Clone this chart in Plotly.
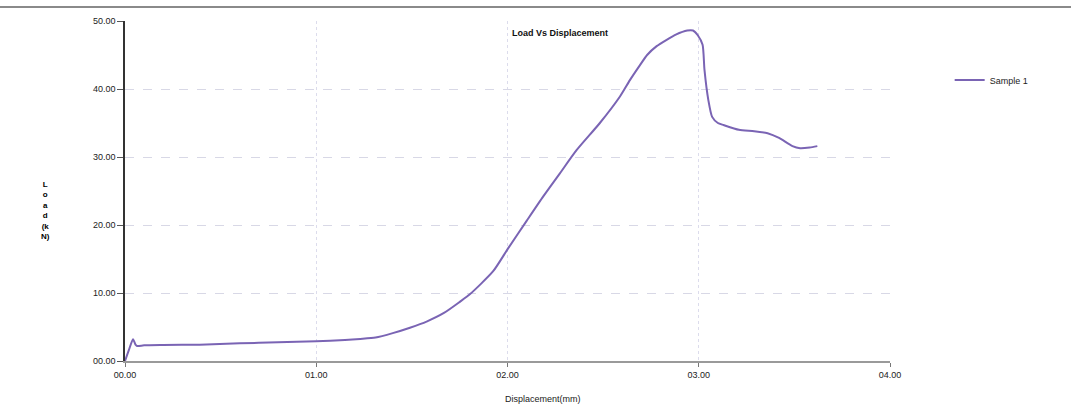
import plotly.graph_objects as go

# Data
displacement_mm = [0.00, 0.020, 0.042, 0.055, 0.063, 0.10, 0.20, 0.39, 0.60, 0.80, 1.00,
                   1.15, 1.23, 1.31, 1.40, 1.49, 1.577, 1.67, 1.751, 1.803, 1.925,
                   2.004, 2.10, 2.187, 2.274, 2.361, 2.483, 2.588, 2.64, 2.69, 2.73,
                   2.78, 2.83, 2.88, 2.94, 2.97, 2.995, 3.02, 3.03, 3.05, 3.07, 3.10,
                   3.13, 3.21, 3.29, 3.36, 3.42, 3.49, 3.53, 3.58, 3.62]
load_kN = [0.0, 1.6, 3.2, 2.4, 2.2, 2.3, 2.35, 2.4, 2.6, 2.75, 2.9,
           3.1, 3.25, 3.45, 4.1, 4.9, 5.8, 7.1, 8.7, 9.8, 13.2,
           16.6, 20.6, 24.2, 27.6, 31.0, 35.0, 38.9, 41.3, 43.4, 45.0,
           46.3, 47.2, 48.0, 48.6, 48.6, 47.9, 46.5, 42.8, 38.4, 35.9, 35.0,
           34.7, 34.0, 33.8, 33.5, 32.8, 31.6, 31.3, 31.4, 31.6]

x_ticks = [0, 1, 2, 3, 4]
x_tick_labels = ["00.00", "01.00", "02.00", "03.00", "04.00"]
y_ticks = [0, 10, 20, 30, 40, 50]
y_tick_labels = ["00.00", "10.00", "20.00", "30.00", "40.00", "50.00"]

series_name = "Sample 1"
title_text = "Load Vs Displacement"
x_title = "Displacement(mm)"
y_title = "L<br>o<br>a<br>d<br>(k<br>N)"

line_color = "#7a64b4"
font_family = "Liberation Sans, Arial, sans-serif"

# plot area in pixels
L, R, T, B = 125, 890, 21, 361
W, H = R - L, B - T


def px(xp):
    return (xp - L) / W


def py(yp):
    return (B - yp) / H


fig = go.Figure()
fig.add_trace(go.Scatter(
    x=displacement_mm, y=load_kN, mode="lines", name=series_name,
    line=dict(color=line_color, width=2, shape="spline", smoothing=0.6),
    showlegend=True,
))

fig.update_layout(
    width=1071, height=411,
    margin=dict(l=L, r=1071 - R, t=T, b=411 - B),
    paper_bgcolor="white", plot_bgcolor="white",
    font=dict(family=font_family, size=9, color="#222"),
    showlegend=True,
    legend=dict(x=1.078, y=py(80), xanchor="left", yanchor="middle",
                font=dict(size=9, color="#222"), bgcolor="rgba(0,0,0,0)",
                itemwidth=30),
    xaxis=dict(
        range=[0, 4], tickvals=x_ticks, ticktext=x_tick_labels,
        showgrid=True, gridcolor="#dcdcec", griddash="dot", gridwidth=1,
        showline=True, linecolor="#9a9a9a", linewidth=1.5,
        ticks="outside", ticklen=4, tickcolor="#777",
        zeroline=False, tickfont=dict(size=9, color="#222"),
        automargin=False,
    ),
    yaxis=dict(
        range=[0, 50], tickvals=y_ticks, ticktext=y_tick_labels,
        showgrid=True, gridcolor="#d8d8e6", griddash="dash", gridwidth=1,
        showline=True, linecolor="#333", linewidth=1.5,
        ticks="outside", ticklen=6, tickcolor="#555",
        zeroline=False, tickfont=dict(size=9, color="#222"),
        automargin=False,
    ),
    annotations=[
        dict(text="<b>" + title_text + "</b>", x=px(510), y=py(33),
             xref="paper", yref="paper", xanchor="left", yanchor="middle",
             showarrow=False, font=dict(size=9, color="#111")),
        dict(text="<b>" + y_title + "</b>", x=px(45), y=py(210),
             xref="paper", yref="paper", xanchor="center", yanchor="middle",
             showarrow=False, font=dict(size=8, color="#000000"), align="center"),
        dict(text=x_title, x=px(543), y=py(399),
             xref="paper", yref="paper", xanchor="center", yanchor="middle",
             showarrow=False, font=dict(size=9, color="#222")),
    ],
    shapes=[
        dict(type="line", xref="paper", yref="paper",
             x0=px(0), x1=px(1071), y0=py(7), y1=py(7),
             line=dict(color="#8a8a8a", width=2)),
    ],
)

fig.write_html("out.html",
               config={"displayModeBar": False},
               post_script="document.body.style.margin='0';document.body.style.overflow='hidden';")
